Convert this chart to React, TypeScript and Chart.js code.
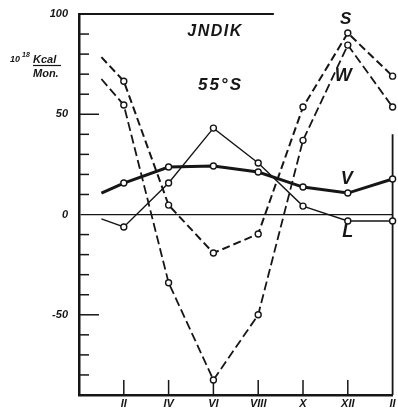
import React, { useEffect, useRef } from "react";
import { Chart, registerables } from "chart.js";

Chart.register(...registerables);

// months: 1 = I ... 14 = II of the next year
const months = [1, 2, 4, 6, 8, 10, 12, 14];
const seriesS = [78.5, 66.5, 4.7, -19.2, -9.7, 53.6, 90.5, 69];
const seriesW = [67.6, 54.6, -34, -82.5, -50, 37, 84.5, 53.6];
const seriesV = [10.7, 15.7, 23.7, 24.2, 21.2, 13.7, 10.7, 17.7];
const seriesL = [-2.2, -6.2, 15.7, 43.1, 25.7, 4.2, -3.2, -3.2];

const xTickMonths = [2, 4, 6, 8, 10, 12, 14];
const xTickLabels = ["II", "IV", "VI", "VIII", "X", "XII", "II"];
const yTickValues = [-90, -80, -70, -60, -50, -40, -30, -20, -10, 0, 10, 20, 30, 40, 50, 60, 70, 80, 90, 100];
const yLabeled = [100, 50, 0, -50];

const INK = "#161616";
const FONT = '"Liberation Sans", Arial, sans-serif';

const toPoints = (vals: number[]) => months.map((m, i) => ({ x: m, y: vals[i] }));
const radii = months.map((m, i) => (i === 0 ? 0 : 3));

const decor = {
  id: "decor",
  beforeDatasetsDraw(chart: any) {
    const { ctx, chartArea } = chart;
    const xs = chart.scales.x;
    const ys = chart.scales.y;
    ctx.save();
    ctx.strokeStyle = INK;
    ctx.lineCap = "butt";
    // inward y ticks
    ctx.lineWidth = 1.5;
    for (const v of yTickValues) {
      if (v === 0 || v === 100 || v === -90) continue;
      const len = v % 50 === 0 ? 20 : 10;
      const y = ys.getPixelForValue(v);
      ctx.beginPath();
      ctx.moveTo(chartArea.left, y);
      ctx.lineTo(chartArea.left + len, y);
      ctx.stroke();
    }
    // inward x ticks
    for (const m of xTickMonths) {
      if (m === 14) continue;
      const x = xs.getPixelForValue(m);
      ctx.beginPath();
      ctx.moveTo(x, chartArea.bottom);
      ctx.lineTo(x, chartArea.bottom - 15);
      ctx.stroke();
    }
    // partial top frame
    ctx.lineWidth = 2;
    ctx.beginPath();
    ctx.moveTo(chartArea.left, ys.getPixelForValue(100));
    ctx.lineTo(xs.getPixelForValue(8.7), ys.getPixelForValue(100));
    ctx.stroke();
    // partial right frame
    ctx.lineWidth = 1.8;
    ctx.beginPath();
    ctx.moveTo(xs.getPixelForValue(14), ys.getPixelForValue(40));
    ctx.lineTo(xs.getPixelForValue(14), chartArea.bottom);
    ctx.stroke();
    ctx.restore();
  },
  afterDatasetsDraw(chart: any) {
    const { ctx, chartArea } = chart;
    const xs = chart.scales.x;
    const ys = chart.scales.y;
    ctx.save();
    ctx.fillStyle = INK;
    ctx.textAlign = "center";
    ctx.textBaseline = "middle";
    const txt = (t: string, xv: number, yv: number, size: number, spacing: number) => {
      ctx.font = `italic bold ${size}px ${FONT}`;
      (ctx as any).letterSpacing = `${spacing}px`;
      ctx.fillText(t, xs.getPixelForValue(xv) + spacing / 2, ys.getPixelForValue(yv));
    };
    txt("JNDIK", 6.04, 91, 16, 1.5);
    txt("55°S", 6.27, 64.6, 17, 2);
    txt("S", 11.9, 97.5, 17, 0);
    txt("W", 11.8, 69, 18, 0);
    txt("V", 11.95, 17.7, 18, 0);
    txt("L", 12, -8.7, 18, 0);

    // y-axis unit
    (ctx as any).letterSpacing = "0px";
    ctx.textAlign = "left";
    ctx.textBaseline = "alphabetic";
    const L = chartArea.left;
    ctx.font = `italic bold 9px ${FONT}`;
    ctx.fillText("10", L - 69, 62);
    ctx.font = `italic bold 7px ${FONT}`;
    ctx.fillText("18", L - 57, 57);
    ctx.font = `italic bold 11px ${FONT}`;
    ctx.fillText("Kcal", L - 46, 63);
    ctx.fillText("Mon.", L - 46, 77);
    ctx.strokeStyle = INK;
    ctx.lineWidth = 1.2;
    ctx.beginPath();
    ctx.moveTo(L - 46, 65.5);
    ctx.lineTo(L - 18, 65.5);
    ctx.stroke();
    ctx.restore();
  },
};

export default function App() {
  const ref = useRef<HTMLCanvasElement | null>(null);
  useEffect(() => {
    if (!ref.current) return;
    const tickFont = { family: FONT, size: 11, style: "italic" as const, weight: "bold" as const };
    const mk = (label: string, vals: number[], width: number, dash: number[]) => ({
      label,
      data: toPoints(vals),
      borderColor: INK,
      borderWidth: width,
      borderDash: dash,
      pointRadius: radii,
      pointBorderWidth: 1.4,
      pointBorderColor: INK,
      pointBackgroundColor: "#ffffff",
      pointStyle: "circle",
      tension: 0,
      fill: false,
      clip: false as const,
    });
    const chart = new Chart(ref.current, {
      type: "line",
      data: {
        datasets: [
          mk("S", seriesS, 2, [8, 4]),
          mk("W", seriesW, 1.8, [9, 4]),
          mk("V", seriesV, 3, []),
          mk("L", seriesL, 1.4, []),
        ],
      },
      options: {
        animation: false,
        responsive: false,
        maintainAspectRatio: false,
        devicePixelRatio: 1,
        layout: { padding: { top: 14, right: 4, left: 0, bottom: 0 } },
        plugins: { legend: { display: false }, tooltip: { enabled: false } },
        scales: {
          x: {
            type: "linear",
            min: 0,
            max: 14,
            afterBuildTicks: (s: any) => {
              s.ticks = xTickMonths.map((v) => ({ value: v }));
            },
            afterFit: (s: any) => {
              s.height = 13;
              s.paddingLeft = 0;
              s.paddingRight = 0;
            },
            ticks: {
              autoSkip: false,
              maxRotation: 0,
              padding: 2,
              color: INK,
              font: tickFont,
              callback: (v: any) => {
                const i = xTickMonths.indexOf(Number(v));
                return i >= 0 ? xTickLabels[i] : "";
              },
            },
            grid: { display: false, drawTicks: false },
            border: { display: true, width: 2.5, color: INK },
          },
          y: {
            type: "linear",
            min: -90,
            max: 100,
            afterBuildTicks: (s: any) => {
              s.ticks = yTickValues.map((v) => ({ value: v }));
            },
            afterFit: (s: any) => {
              s.width = 79;
              s.paddingTop = 0;
              s.paddingBottom = 0;
            },
            ticks: {
              autoSkip: false,
              padding: 11,
              color: INK,
              font: tickFont,
              callback: (v: any) => (yLabeled.includes(Number(v)) ? String(v) : null),
            },
            grid: {
              display: true,
              drawTicks: false,
              lineWidth: 1.2,
              color: (c: any) => (c.tick && c.tick.value === 0 ? INK : "rgba(0,0,0,0)"),
            },
            border: { display: true, width: 2.5, color: INK },
          },
        },
      },
      plugins: [decor],
    });
    return () => chart.destroy();
  }, []);
  return (
    <div style={{ position: "absolute", left: 0, top: 0, width: 398, height: 408, background: "#fff" }}>
      <canvas ref={ref} width={398} height={408} style={{ width: 398, height: 408, display: "block" }} />
    </div>
  );
}
